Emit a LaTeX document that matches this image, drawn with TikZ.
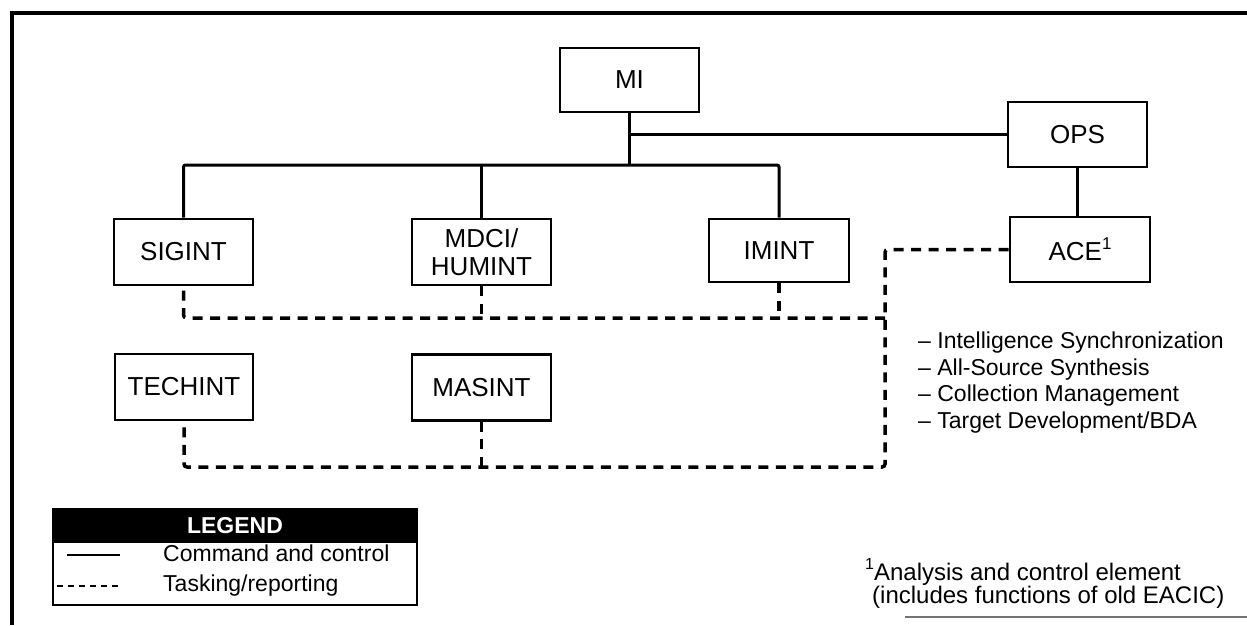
\documentclass[tikz,border=0pt]{standalone}
\usepackage{fontspec}
\setmainfont{Liberation Sans}
\begin{document}
\begin{tikzpicture}[x=1pt,y=-1pt,
  box/.style={draw, line width=2.8pt, inner sep=0pt, align=center, font=\fontsize{26}{28}\selectfont},
  cc/.style={line width=3pt, rounded corners=2pt},
  tr/.style={line width=3.5pt, dash pattern=on 10pt off 7.5pt, rounded corners=3pt},
  txt/.style={inner sep=0pt, anchor=base west, font=\fontsize{23}{27}\selectfont},
  frame/.style={line width=4.5pt}]
\useasboundingbox (0,0) rectangle (1247,625);
% outer frame
\draw[frame] (12,625) -- (12,13) -- (1247,13);
\draw[line width=1.5pt, black!55] (905,617) -- (1247,617);
% boxes
\node[box, minimum width=139pt, minimum height=64pt] (MI) at (629.5,80) {MI};
\node[box, minimum width=139pt, minimum height=65pt] (OPS) at (1077.5,134.5) {OPS};
\node[box, minimum width=140pt, minimum height=65pt] (ACE) at (1080,249.5) {ACE\raisebox{0.42em}{\fontsize{17}{17}\selectfont 1}};
\node[box, minimum width=139pt, minimum height=66pt] (SIGINT) at (183.5,252) {SIGINT};
\node[box, minimum width=139pt, minimum height=66pt] (MDCI) at (481.5,252) {MDCI/\\HUMINT};
\node[box, minimum width=140pt, minimum height=63pt] (IMINT) at (779,250.5) {IMINT};
\node[box, minimum width=138pt, minimum height=66pt] (TECHINT) at (184,387) {TECHINT};
\node[box, minimum width=139pt, minimum height=66pt] (MASINT) at (481.5,387.5) {MASINT};
% command and control
\coordinate (bus) at (629.5,165);
\draw[cc] (MI.south) -- (bus);
\draw[cc] (SIGINT.north) |- (bus) -| (IMINT.north);
\draw[cc] (MDCI.north) -- (MDCI.north |- bus);
\draw[cc] (MI.south |- OPS.west) -- (OPS.west);
\draw[cc] (OPS.south) -- (OPS.south |- ACE.north);
% tasking / reporting
\coordinate (r1) at (885,318);
\coordinate (r2) at (885,467);
\draw[tr] (ACE.west) -| (r2) -| (TECHINT.south);
\draw[tr] (MASINT.south) -- (MASINT.south |- r2);
\draw[tr] (r1) -| (SIGINT.south);
\draw[tr] (MDCI.south) -- (MDCI.south |- r1);
\draw[tr] (IMINT.south) -- (IMINT.south |- r1);
% functions
\node[txt] (f1) at (918,348) {– Intelligence Synchronization};
\node[txt] (f2) at (918,375) {– All-Source Synthesis};
\node[txt] (f3) at (918,401.5) {– Collection Management};
\node[txt] (f4) at (918,428) {– Target Development/BDA};
% footnote
\node[txt, font=\fontsize{24}{28}\selectfont] (fn1) at (865,580) {\raisebox{0.45em}{\fontsize{16}{16}\selectfont 1}Analysis and control element};
\node[txt, font=\fontsize{24}{28}\selectfont] (fn2) at (872,603) {(includes functions of old EACIC)};
% legend
\fill (53,509) rectangle (417,543);
\draw[line width=2.2pt] (53,509) rectangle (417,605);
\node[font=\bfseries\fontsize{23}{28}\selectfont, text=white, inner sep=0pt] (lg) at (235,526) {LEGEND};
\coordinate (l1a) at (67,555);
\coordinate (l1b) at (120,555);
\coordinate (l2a) at (57,586);
\coordinate (l2b) at (120,586);
\draw[line width=2.2pt] (l1a) -- (l1b);
\draw[line width=2pt, dash pattern=on 6pt off 5pt] (l2a) -- (l2b);
\node[txt, font=\fontsize{23}{28}\selectfont] (lc) at (163,561) {Command and control};
\node[txt, font=\fontsize{23}{28}\selectfont] (lt) at (163,591) {Tasking/reporting};
\end{tikzpicture}
\end{document}
